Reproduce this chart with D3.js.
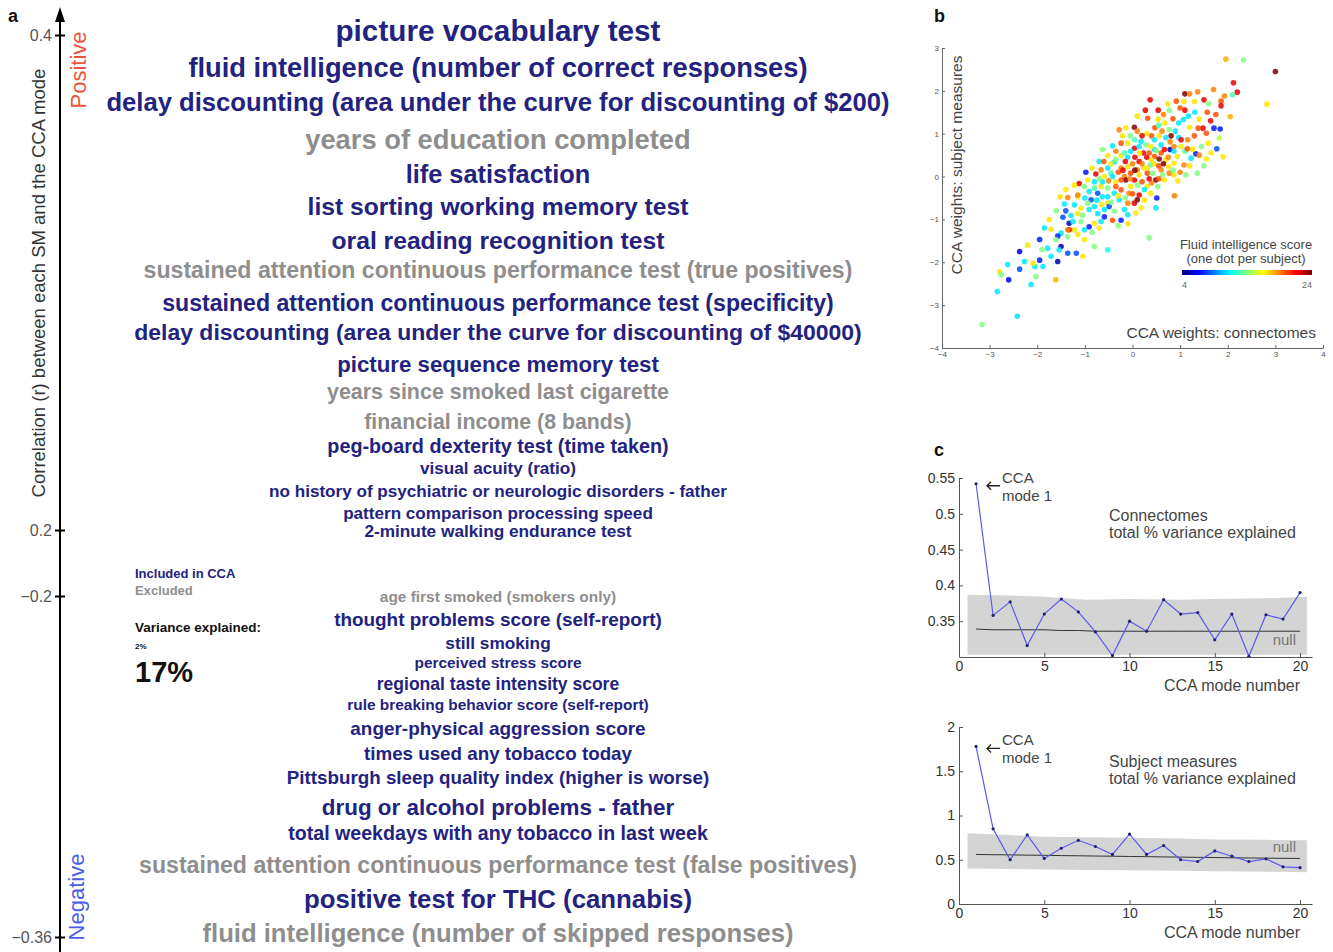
<!DOCTYPE html>
<html>
<head>
<meta charset="utf-8">
<script src="https://cdn.jsdelivr.net/npm/d3@7"></script>
<style>
  body { margin: 0; background: #fff; }
  svg { display: block; font-family: "Liberation Sans", Arial, Helvetica, sans-serif; }
</style>
</head>
<body>
<div id="fig"></div>
<script>
// ---- panel a: subject measures, their correlation with the CCA mode and variance explained
var smLabels = [
  "picture vocabulary test",
  "fluid intelligence (number of correct responses)",
  "delay discounting (area under the curve for discounting of $200)",
  "years of education completed",
  "life satisfaction",
  "list sorting working memory test",
  "oral reading recognition test",
  "sustained attention continuous performance test (true positives)",
  "sustained attention continuous performance test (specificity)",
  "delay discounting (area under the curve for discounting of $40000)",
  "picture sequence memory test",
  "years since smoked last cigarette",
  "financial income (8 bands)",
  "peg-board dexterity test (time taken)",
  "visual acuity (ratio)",
  "no history of psychiatric or neurologic disorders - father",
  "pattern comparison processing speed",
  "2-minute walking endurance test",
  "age first smoked (smokers only)",
  "thought problems score (self-report)",
  "still smoking",
  "perceived stress score",
  "regional taste intensity score",
  "rule breaking behavior score (self-report)",
  "anger-physical aggression score",
  "times used any tobacco today",
  "Pittsburgh sleep quality index (higher is worse)",
  "drug or alcohol problems - father",
  "total weekdays with any tobacco in last week",
  "sustained attention continuous performance test (false positives)",
  "positive test for THC (cannabis)",
  "fluid intelligence (number of skipped responses)"
];
var smR = [0.402, 0.387, 0.373, 0.358, 0.344, 0.331, 0.317, 0.305, 0.292, 0.280, 0.267,
  0.256, 0.244, 0.234, 0.225, 0.216, 0.207, 0.198,
  -0.200, -0.211, -0.222, -0.231, -0.241, -0.251, -0.262, -0.274, -0.285, -0.299,
  -0.311, -0.326, -0.342, -0.358];
var smVariance = [17.5, 15.8, 14.6, 15.8, 14.4, 13.9, 13.9, 12.8, 12.8, 12.7, 12.2,
  11.6, 11.5, 10.4, 8.5, 8.5, 8.5, 8.6,
  7.3, 9.8, 8.6, 7.3, 8.8, 7.3, 9.8, 9.7, 9.7, 12.3, 10.3, 12.8, 14.7, 14.6];
var smIncluded = [1, 1, 1, 0, 1, 1, 1, 0, 1, 1, 1, 0, 0, 1, 1, 1, 1, 1,
  0, 1, 1, 1, 1, 1, 1, 1, 1, 1, 1, 0, 1, 0];
var corrTicks = [0.4, 0.2, -0.2, -0.36];

// ---- panel b: CCA weights [connectomes, subject measures, fluid intelligence score]
var scatterPoints = [
  [1.96, 2.74, 18], [2.33, 2.72, 14], [3.0, 2.45, 24], [2.82, 1.69, 17], [2.12, 2.19, 22],
  [2.2, 1.97, 22], [2.1, 1.91, 13], [1.86, 1.76, 20], [1.93, 1.88, 19], [1.7, 2.03, 19],
  [1.86, 1.65, 22], [2.05, 1.4, 18], [1.9, 0.46, 17], [1.77, 0.65, 8], [1.71, 1.13, 7],
  [1.84, 1.11, 7], [1.82, 0.9, 15], [1.55, 1.01, 20], [1.48, 1.13, 22], [1.64, 1.3, 22],
  [1.57, 1.5, 20], [1.5, 1.79, 22], [1.37, 1.98, 19], [1.1, 1.93, 24], [1.2, 1.93, 19],
  [1.08, 1.75, 17], [0.92, 1.76, 20], [0.74, 1.7, 17], [0.37, 1.79, 22], [0.54, 1.55, 22],
  [0.27, 1.55, 22], [0.32, 1.36, 20], [0.1, 1.41, 17], [0.54, 1.34, 17], [0.77, 1.55, 14],
  [1.1, 1.55, 22], [1.17, 1.41, 11], [1.31, 1.5, 11], [1.4, 1.34, 17], [1.38, 1.13, 20],
  [1.07, 1.33, 11], [0.97, 1.25, 11], [0.9, 1.06, 11], [0.77, 1.1, 14], [0.68, 1.25, 17],
  [0.62, 1.06, 19], [0.47, 1.14, 20], [0.4, 0.95, 20], [0.81, 0.95, 24], [0.97, 0.91, 11],
  [0.79, 0.81, 19], [0.79, 0.63, 5], [0.6, 0.74, 11], [0.6, 0.55, 20], [0.46, 0.47, 20],
  [0.56, 0.41, 24], [0.39, 0.39, 17], [0.23, 0.55, 22], [0.14, 0.35, 22], [0.05, 0.45, 22],
  [0.04, 0.66, 22], [0.04, 0.86, 13], [0.18, 0.82, 11], [-0.1, 0.78, 17], [-0.24, 0.78, 20],
  [0.04, 1.15, 24], [-0.28, 1.09, 19], [-0.21, 0.95, 17], [-0.42, 0.72, 11], [-0.52, 0.49, 17],
  [-0.24, 0.49, 17], [-0.38, 0.34, 11], [-0.24, 0.2, 19], [-0.1, 0.23, 17], [-0.52, 0.2, 11],
  [-0.66, 0.16, 19], [-0.77, 0.06, 22], [-0.98, 0.1, 7], [-0.8, -0.12, 11], [-0.59, 0.0, 17],
  [-0.45, 0.08, 13], [-0.35, -0.12, 17], [-0.17, 0.0, 19], [-0.14, -0.08, 24], [-0.04, 0.08, 20],
  [0.1, 0.16, 19], [0.24, 0.2, 17], [0.38, 0.27, 13], [0.49, -0.08, 24], [0.6, 0.16, 19],
  [0.76, 0.23, 17], [0.87, 0.04, 17], [1.12, 0.04, 14], [1.36, 0.08, 14], [1.55, 0.41, 17],
  [1.33, 0.53, 7], [1.26, 0.64, 17], [1.1, 0.59, 13], [1.23, 0.43, 11], [0.94, 0.47, 17],
  [0.87, 0.7, 19], [1.16, 0.86, 19], [1.02, 0.86, 22], [0.53, -0.23, 14], [0.51, -0.5, 7],
  [0.49, -0.73, 11], [0.88, -0.45, 19], [0.35, -1.43, 14], [0.14, -0.43, 22], [0.04, -0.62, 22],
  [0.18, -0.73, 17], [0.07, -0.85, 17], [-0.1, -0.62, 19], [-0.17, -0.77, 11], [-0.28, -0.54, 11],
  [-0.38, -0.39, 11], [-0.35, -0.23, 20], [-0.52, -0.27, 14], [-0.63, -0.47, 11], [-0.73, -0.39, 8],
  [-0.87, -0.54, 8], [-0.91, -0.77, 11], [-0.59, -0.77, 11], [-0.52, -0.62, 17], [-0.38, -0.81, 14],
  [-0.24, -1.02, 7], [-0.42, -1.02, 20], [-0.59, -0.94, 7], [-0.66, -1.05, 11], [-0.8, -1.09, 17],
  [-0.91, -1.17, 7], [-1.01, -1.24, 11], [-1.08, -1.05, 14], [-1.15, -0.86, 17], [-1.22, -0.66, 11],
  [-1.12, -0.16, 22], [-1.36, -0.49, 19], [-1.52, -0.47, 17], [-1.43, -0.64, 11], [-1.4, -0.8, 8],
  [-1.29, -0.91, 11], [-1.46, -0.95, 8], [-1.33, -1.09, 5], [-1.22, -1.24, 17], [-1.33, -1.24, 22],
  [-1.5, -1.32, 11], [-1.36, -1.4, 14], [-1.57, -1.39, 7], [-1.75, -1.0, 17], [-1.71, -1.23, 17],
  [-1.61, -1.47, 14], [-1.5, -1.63, 5], [-1.54, -1.71, 11], [-1.78, -1.67, 11], [-1.71, -1.86, 11],
  [-1.57, -1.98, 5], [-1.36, -1.79, 8], [-1.18, -1.79, 8], [-1.04, -1.86, 17], [-1.01, -1.47, 17],
  [-0.8, -1.63, 14], [-0.52, -1.71, 12], [-1.95, -1.47, 7], [-1.95, -1.95, 7], [-2.05, -2.1, 11],
  [-1.88, -2.1, 11], [-2.09, -2.02, 17], [-2.37, -1.75, 6], [-2.27, -1.98, 11], [-2.37, -2.16, 8],
  [-2.62, -2.05, 11], [-2.79, -2.22, 17], [-2.76, -2.29, 14], [-2.6, -2.41, 6], [-2.13, -2.52, 11],
  [-2.03, -2.33, 14], [-1.61, -2.41, 18], [-2.84, -2.68, 11], [-2.42, -3.26, 11], [-3.16, -3.45, 14],
  [-0.24, -0.31, 20], [-0.04, -0.23, 17], [0.2, -0.12, 20], [0.31, -0.23, 17], [-0.07, -0.39, 19],
  [-0.52, -0.47, 11], [-0.66, -0.23, 17], [-0.8, -0.27, 13], [-0.91, -0.35, 11], [-1.01, -0.23, 14],
  [-1.15, -0.47, 17], [0.1, -0.54, 24], [0.38, -0.39, 17], [0.31, 0.08, 20], [0.46, 0.63, 11],
  [0.28, 0.74, 14], [0.38, 0.7, 17], [0.67, 0.63, 22], [0.7, 0.39, 17], [0.87, 0.31, 17],
  [1.08, 0.27, 19], [0.77, 0.08, 19], [0.63, 0.04, 14], [0.14, 0.7, 11], [-0.17, 0.55, 13],
  [-0.04, 0.59, 11], [-0.35, 0.59, 19], [-0.63, 0.63, 14], [-0.7, 0.35, 11], [-0.1, 0.45, 11],
  [0.1, 1.06, 19], [-0.14, 1.14, 17], [0.46, 0.86, 11], [0.56, 0.95, 17], [0.7, 0.91, 11],
  [0.87, 0.59, 11], [1.02, 0.7, 17], [1.45, 0.7, 14], [1.59, 0.78, 17], [-0.24, -0.08, 20],
  [0.04, -0.08, 22], [0.14, 0.04, 17], [0.31, 0.2, 17], [0.42, 0.08, 14], [0.67, -0.08, 17],
  [-0.42, 0.0, 11], [-0.63, -0.12, 11], [-0.94, -0.08, 17], [-1.15, -0.43, 19], [-1.22, -0.2, 17],
  [-1.36, -1.24, 19], [-0.94, -0.62, 14], [-1.08, -0.74, 17], [-0.8, -0.7, 11], [-0.73, -0.86, 11],
  [-0.49, -0.7, 8], [-0.1, -0.89, 11],
  [0.2, 0.3, 19], [0.3, 0.45, 22], [0.45, 0.3, 17], [0.55, 0.25, 20], [0.65, 0.3, 24],
  [0.75, 0.45, 19], [0.5, 0.6, 14], [0.35, 0.55, 20], [0.15, 0.55, 17], [0.0, 0.3, 19],
  [-0.15, 0.35, 22], [-0.3, 0.1, 20], [-0.05, -0.05, 19], [0.1, -0.2, 14], [0.25, -0.3, 11],
  [0.4, -0.15, 19], [0.55, -0.05, 20], [0.85, 0.15, 14], [1.0, 0.1, 19], [0.95, -0.1, 17],
  [1.2, 0.25, 17], [1.3, 0.95, 20], [1.2, 1.15, 17], [0.85, 1.35, 20], [0.55, 1.2, 13],
  [0.3, 1.0, 17], [0.2, 0.95, 22], [-0.05, 0.95, 14], [-0.35, 0.4, 14], [-0.45, 0.3, 17],
  [-0.6, 0.35, 20], [-0.85, 0.2, 17], [-0.7, -0.05, 14], [-0.5, -0.1, 19], [-0.3, -0.45, 17],
  [-0.15, -0.5, 14], [0.0, -0.4, 20], [0.25, -0.55, 17], [-0.45, -0.6, 14], [-0.65, -0.65, 17],
  [-0.75, -0.55, 11], [-1.0, -0.5, 11], [-1.05, -0.9, 14], [-1.25, -1.05, 11], [-1.15, -1.35, 17],
  [-0.85, -1.3, 14], [-0.7, -1.2, 17], [-0.3, -1.15, 14], [-0.1, -1.1, 17], [-1.4, -0.3, 17],
  [-1.6, -0.8, 14], [-1.85, -1.2, 11], [-1.9, -1.7, 14], [-2.2, -1.6, 17], [0.65, 1.45, 19],
  [1.0, 1.6, 20], [1.3, 1.75, 17], [1.6, 1.7, 14], [1.75, 1.45, 20], [1.15, 0.65, 20],
  [1.4, 0.5, 19], [1.65, 0.55, 17], [1.5, 0.25, 14], [0.05, 0.15, 24], [0.35, -0.05, 22],
  [-0.2, 0.15, 22]
];
var scoreRange = [4, 24];

// ---- panel c: total % variance explained per CCA mode
var modes = [1, 2, 3, 4, 5, 6, 7, 8, 9, 10, 11, 12, 13, 14, 15, 16, 17, 18, 19, 20];
var connVar = [0.542, 0.358, 0.377, 0.316, 0.360, 0.381, 0.363, 0.335, 0.302, 0.350,
  0.336, 0.380, 0.360, 0.362, 0.324, 0.360, 0.301, 0.359, 0.353, 0.390];
var connNull = [0.339, 0.338, 0.338, 0.338, 0.338, 0.337, 0.337, 0.336, 0.336, 0.336,
  0.336, 0.336, 0.336, 0.336, 0.336, 0.336, 0.336, 0.336, 0.336, 0.336];
var subjVar = [1.78, 0.85, 0.50, 0.78, 0.515, 0.63, 0.72, 0.65, 0.56, 0.79,
  0.56, 0.66, 0.50, 0.48, 0.60, 0.54, 0.48, 0.51, 0.42, 0.41];
var subjNull = [0.56, 0.557, 0.555, 0.552, 0.55, 0.547, 0.545, 0.542, 0.54, 0.537,
  0.535, 0.532, 0.53, 0.527, 0.525, 0.522, 0.52, 0.518, 0.516, 0.515];
var bandX = [0.5, 3, 5, 7.5, 10, 13, 15, 18, 20.4];
var connBandHi = [0.387, 0.386, 0.384, 0.380, 0.381, 0.380, 0.381, 0.382, 0.384];
var connBandLo = [0.303, 0.303, 0.303, 0.303, 0.303, 0.303, 0.303, 0.303, 0.303];
var subjBandHi = [0.80, 0.78, 0.76, 0.755, 0.75, 0.74, 0.73, 0.725, 0.72];
var subjBandLo = [0.40, 0.395, 0.39, 0.385, 0.38, 0.375, 0.37, 0.365, 0.36];

var W = 1333, H = 952;
var navy = "#23237f", grey = "#8e8e8e", ink = "#444";

var svg = d3.select("#fig").append("svg").attr("width", W).attr("height", H);

function panelLetter(t, x, y) {
  svg.append("text").attr("x", x).attr("y", y).text(t)
    .style("font-size", "18px").style("font-weight", 700).attr("fill", "#111");
}
panelLetter("a", 8, 22);
panelLetter("b", 934, 22);
panelLetter("c", 934, 456);

// ================= panel a =================
var yA = d3.scaleLinear().domain([0.4, 0.2, -0.2, -0.36]).range([35, 530, 596, 937]);
var fontSize = d3.scaleLinear().domain([2, 17]).range([8, 29]);
var axX = 60;

svg.append("line").attr("x1", axX).attr("x2", axX).attr("y1", 16).attr("y2", H)
  .attr("stroke", "#000").attr("stroke-width", 2);
svg.append("path").attr("d", "M" + axX + ",7 L" + (axX - 5) + ",22 L" + (axX + 5) + ",22 Z").attr("fill", "#000");

var gA = svg.append("g").attr("transform", "translate(" + axX + ",0)")
  .call(d3.axisLeft(yA).tickValues(corrTicks).tickSize(5).tickPadding(3).tickFormat(d3.format("")));
gA.select(".domain").remove();
gA.selectAll(".tick line").attr("x1", 5).attr("x2", -5).attr("stroke-width", 2);
gA.selectAll(".tick text").style("font-size", "16px").attr("fill", "#555")
  .style("font-family", "'Liberation Sans', Arial, sans-serif");

svg.append("text").attr("transform", "translate(45,283) rotate(-90)")
  .attr("text-anchor", "middle").text("Correlation (r) between each SM and the CCA mode")
  .style("font-size", "18.5px").attr("fill", "#333");
svg.append("text").attr("transform", "translate(86,70) rotate(-90)")
  .attr("text-anchor", "middle").text("Positive")
  .style("font-size", "22px").attr("fill", "#e8553c");
svg.append("text").attr("transform", "translate(84,897) rotate(-90)")
  .attr("text-anchor", "middle").text("Negative")
  .style("font-size", "22px").attr("fill", "#4a5ee6");

svg.append("g").selectAll("text").data(smLabels).enter().append("text")
  .attr("x", 498)
  .attr("y", function(d, i) { return yA(smR[i]); })
  .attr("dy", "0.36em")
  .attr("text-anchor", "middle")
  .style("font-weight", 700)
  .style("font-size", function(d, i) { return fontSize(smVariance[i]) + "px"; })
  .attr("fill", function(d, i) { return smIncluded[i] ? navy : grey; })
  .text(function(d) { return d; });

// legend
var leg = svg.append("g").attr("transform", "translate(135,0)").style("font-weight", 700);
leg.append("text").attr("y", 578).text("Included in CCA").style("font-size", "13px").attr("fill", navy);
leg.append("text").attr("y", 595).text("Excluded").style("font-size", "13px").attr("fill", grey);
leg.append("text").attr("y", 632).text("Variance explained:").style("font-size", "13.5px").attr("fill", "#111");
leg.append("text").attr("y", 649).text("2%").style("font-size", fontSize(2) + "px").attr("fill", "#111");
leg.append("text").attr("y", 682).text("17%").style("font-size", fontSize(17) + "px").attr("fill", "#111");

// ================= panel b =================
var xB = d3.scaleLinear().domain([-4, 4]).range([942, 1323]);
var yB = d3.scaleLinear().domain([-4, 3]).range([348, 48]);
var jet = d3.scaleLinear()
  .domain([4, 6.5, 11.5, 16.5, 21.5, 24])
  .range(["#000080", "#0000ff", "#00ffff", "#ffff00", "#ff0000", "#800000"]);

function smallAxis(g, size) {
  g.selectAll(".tick text").style("font-size", size + "px").attr("fill", "#555");
  g.selectAll("line, path").attr("stroke", "#666");
}
svg.append("g").attr("transform", "translate(0,348)")
  .call(d3.axisBottom(xB).tickValues([-4, -3, -2, -1, 0, 1, 2, 3, 4]).tickSize(-3).tickSizeOuter(0)
    .tickPadding(3).tickFormat(d3.format("")))
  .call(smallAxis, 8);
svg.append("g").attr("transform", "translate(942,0)")
  .call(d3.axisLeft(yB).tickValues([-4, -3, -2, -1, 0, 1, 2, 3]).tickSize(-3).tickSizeOuter(0)
    .tickPadding(3).tickFormat(d3.format("")))
  .call(smallAxis, 8);

svg.append("g").selectAll("circle").data(scatterPoints).enter().append("circle")
  .attr("cx", function(d) { return xB(d[0]); })
  .attr("cy", function(d) { return yB(d[1]); })
  .attr("r", 2.8)
  .attr("fill", function(d) { return jet(d[2]); })
  .attr("fill-opacity", 0.85);

svg.append("text").attr("transform", "translate(962,165) rotate(-90)")
  .attr("text-anchor", "middle").text("CCA weights: subject measures")
  .style("font-size", "15.5px").attr("fill", ink);
svg.append("text").attr("x", 1316).attr("y", 338).attr("text-anchor", "end")
  .text("CCA weights: connectomes").style("font-size", "15.5px").attr("fill", ink);

// colour bar
var cb = d3.scaleLinear().domain(scoreRange).range([1182, 1312]);
var grad = svg.append("defs").append("linearGradient").attr("id", "jetgrad");
grad.selectAll("stop").data(jet.domain()).enter().append("stop")
  .attr("offset", function(d) { return (d - 4) / 20; })
  .attr("stop-color", function(d) { return jet(d); });
svg.append("rect").attr("x", cb(4)).attr("y", 270).attr("width", cb(24) - cb(4)).attr("height", 5)
  .attr("fill", "url(#jetgrad)");
svg.append("text").attr("x", cb(4)).attr("y", 288).text("4").style("font-size", "9px").attr("fill", "#666");
svg.append("text").attr("x", cb(24)).attr("y", 288).attr("text-anchor", "end").text("24")
  .style("font-size", "9px").attr("fill", "#666");
svg.append("text").attr("x", 1246).attr("y", 249).attr("text-anchor", "middle")
  .text("Fluid intelligence score").style("font-size", "13px").attr("fill", ink);
svg.append("text").attr("x", 1246).attr("y", 263).attr("text-anchor", "middle")
  .text("(one dot per subject)").style("font-size", "13px").attr("fill", ink);

// ================= panel c =================
var xC = d3.scaleLinear().domain([0, 20.7]).range([959, 1312]);

function variancePanel(opt) {
  var y = d3.scaleLinear().domain(opt.domain).range(opt.range);
  var g = svg.append("g");
  var area = d3.area().x(function(d, i) { return xC(bandX[i]); })
    .y0(function(d, i) { return y(opt.lo[i]); })
    .y1(function(d, i) { return y(opt.hi[i]); });
  g.append("path").attr("d", area(bandX)).attr("fill", "#d4d4d4");
  var line = d3.line().x(function(d, i) { return xC(modes[i]); }).y(function(d) { return y(d); });
  g.append("path").attr("d", line(opt.nul)).attr("fill", "none").attr("stroke", "#333").attr("stroke-width", 1);
  g.append("path").attr("d", line(opt.vals)).attr("fill", "none").attr("stroke", "#5b5bee").attr("stroke-width", 1.2);
  g.selectAll("circle").data(opt.vals).enter().append("circle")
    .attr("cx", function(d, i) { return xC(modes[i]); })
    .attr("cy", function(d) { return y(d); })
    .attr("r", 1.6).attr("fill", "#22226e");

  var ax = svg.append("g").attr("transform", "translate(0," + opt.range[0] + ")")
    .call(d3.axisBottom(xC).tickValues([0, 5, 10, 15, 20]).tickSize(-4).tickSizeOuter(0).tickPadding(4));
  var ay = svg.append("g").attr("transform", "translate(959,0)")
    .call(d3.axisLeft(y).tickValues(opt.ticks).tickSize(-4).tickSizeOuter(0).tickPadding(4).tickFormat(d3.format("")));
  [ax, ay].forEach(function(a) {
    a.selectAll(".tick text").style("font-size", "14px").attr("fill", "#333")
      .style("font-family", "'Liberation Sans', Arial, sans-serif");
    a.selectAll("line, path").attr("stroke", "#555");
  });

  // annotation on mode 1
  var ty = y(opt.vals[0]);
  g.append("path").attr("d", "M1000," + (ty + 2) + "H987 M991," + (ty - 2) + "L987," + (ty + 2) + "L991," + (ty + 6))
    .attr("fill", "none").attr("stroke", "#222").attr("stroke-width", 1.3);
  g.append("text").attr("x", 1002).attr("y", ty - 1).text("CCA").style("font-size", "15px").attr("fill", ink);
  g.append("text").attr("x", 1002).attr("y", ty + 17).text("mode 1").style("font-size", "15px").attr("fill", ink);

  g.append("text").attr("x", 1109).attr("y", opt.titleY).text(opt.title).style("font-size", "16px").attr("fill", ink);
  g.append("text").attr("x", 1109).attr("y", opt.titleY + 17).text("total % variance explained")
    .style("font-size", "16px").attr("fill", ink);
  g.append("text").attr("x", 1296).attr("y", opt.nullY).attr("text-anchor", "end").text("null")
    .style("font-size", "15px").attr("fill", "#777");
  g.append("text").attr("x", 1300).attr("y", opt.range[0] + 34).attr("text-anchor", "end")
    .text("CCA mode number").style("font-size", "16px").attr("fill", ink);
}

variancePanel({
  domain: [0.3, 0.55], range: [657, 478], ticks: [0.35, 0.4, 0.45, 0.5, 0.55],
  vals: connVar, nul: connNull, hi: connBandHi, lo: connBandLo,
  title: "Connectomes", titleY: 521, nullY: 645
});
variancePanel({
  domain: [0, 2], range: [904, 727], ticks: [0, 0.5, 1, 1.5, 2],
  vals: subjVar, nul: subjNull, hi: subjBandHi, lo: subjBandLo,
  title: "Subject measures", titleY: 767, nullY: 852
});
</script>
</body>
</html>
